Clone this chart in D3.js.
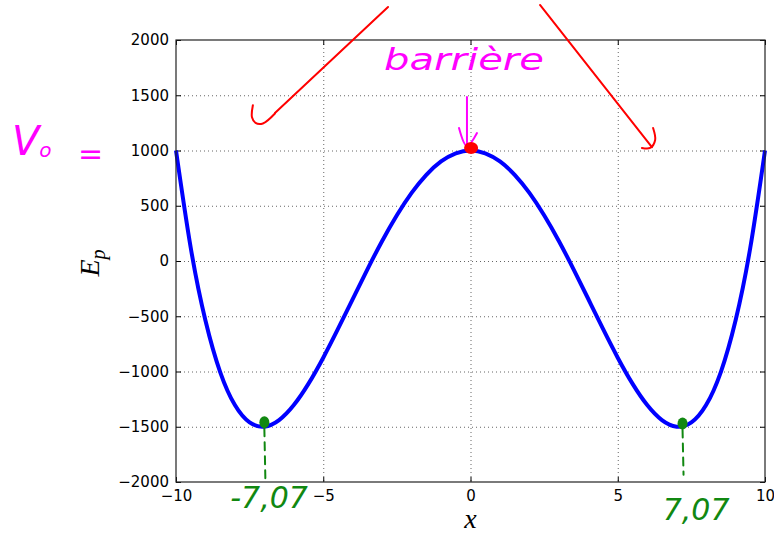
<!DOCTYPE html>
<html>
<head>
<meta charset="utf-8">
<script src="https://cdn.jsdelivr.net/npm/d3@7/dist/d3.min.js"></script>
<style>
  body { margin: 0; background: #fff; }
  svg { display: block; }
  .axis text { font-family: "DejaVu Sans", sans-serif; font-size: 15px; fill: #000; }
  .axis path { display: none; }
  .axis line { stroke: #000; stroke-width: 1; }
  .grid line { stroke: #666; stroke-width: 1; stroke-dasharray: 1,3; }
  .grid path { display: none; }
  .hand { font-family: "DejaVu Sans", sans-serif; font-style: italic; }
</style>
</head>
<body>
<svg id="chart" width="774" height="535"></svg>
<script>
// courbe Ep(x)
const xValues = [-10, -9.5, -9, -8.5, -8, -7.5, -7, -6.5, -6, -5.5, -5, -4.5, -4, -3.5, -3, -2.5, -2, -1.5, -1, -0.5,
                 0, 0.5, 1, 1.5, 2, 2.5, 3, 3.5, 4, 4.5, 5, 5.5, 6, 6.5, 7, 7.5, 8, 8.5, 9, 9.5, 10];
const epValues = [1000, 120, -539, -1005, -1304, -1461, -1499, -1440, -1304, -1110, -875, -615, -344, -75, 181, 414, 616, 780, 901, 975,
                  1000, 975, 901, 780, 616, 414, 181, -75, -344, -615, -875, -1110, -1304, -1440, -1499, -1461, -1304, -1005, -539, 120, 1000];

const xTicks = [-10, -5, 0, 5, 10];
const yTicks = [-2000, -1500, -1000, -500, 0, 500, 1000, 1500, 2000];

// annotations manuscrites (coordonnées dans l'espace des données)
const summitDot = [0.02, 1023];
const minimaDotsX = [-7.0, 7.2];
const minimaDotsY = [-1460, -1470];
const minimaLabels = ['-7,07', '7,07'];
const minimaLabelX = [-6.84, 7.66];
const minimaLabelY = [-2235, -2345];
const minimaDashEnd = [-1965, -1935];

const redArrows = [
    { line: [[-2.80, 2299], [-6.64, 1339]],
      hook: [[-7.39, 1410], [-7.42, 1300], [-7.3, 1250], [-7.05, 1245], [-6.64, 1335]] },
    { line: [[2.36, 2317], [6.16, 1030]],
      hook: [[6.20, 1204], [6.27, 1095], [6.10, 1023], [5.82, 1023]] }
];
const magentaStem = [[-0.12, 1484], [-0.12, 1060]];
const magentaHead = [[-0.39, 1204], [-0.12, 1040], [0.22, 1158]];

const margin = { top: 40, right: 9, bottom: 53, left: 176 };
const W = 774, H = 535;
const width = W - margin.left - margin.right;
const height = H - margin.top - margin.bottom;

const svg = d3.select('#chart');
const g = svg.append('g').attr('transform', `translate(${margin.left},${margin.top})`);

const x = d3.scaleLinear().domain([-10, 10]).range([0, width]);
const y = d3.scaleLinear().domain([-2000, 2000]).range([height, 0]);
const fmt = d => d3.format('d')(d);

// grille
g.append('g').attr('class', 'grid')
    .call(d3.axisBottom(x).tickValues(xTicks.slice(1, -1)).tickSize(height).tickFormat(''));
g.append('g').attr('class', 'grid')
    .call(d3.axisLeft(y).tickValues(yTicks.slice(1, -1)).tickSize(-width).tickFormat(''));

// axes (graduations vers l'intérieur, sur les quatre côtés)
g.append('g').attr('class', 'axis')
    .attr('transform', `translate(0,${height})`)
    .call(d3.axisBottom(x).tickValues(xTicks).tickSize(-5).tickPadding(8).tickFormat(fmt));
g.append('g').attr('class', 'axis')
    .call(d3.axisTop(x).tickValues(xTicks).tickSize(-5).tickFormat(''));
g.append('g').attr('class', 'axis')
    .call(d3.axisLeft(y).tickValues(yTicks).tickSize(-5).tickPadding(7).tickFormat(fmt));
g.append('g').attr('class', 'axis')
    .attr('transform', `translate(${width},0)`)
    .call(d3.axisRight(y).tickValues(yTicks).tickSize(-5).tickFormat(''));

// courbe
const pts = xValues.map((v, i) => [v, epValues[i]]);
const line = d3.line().x(d => x(d[0])).y(d => y(d[1])).curve(d3.curveNatural);
g.append('path')
    .datum(pts)
    .attr('d', line)
    .attr('fill', 'none')
    .attr('stroke', '#0000ff')
    .attr('stroke-width', 4)
    .attr('stroke-linejoin', 'round');

// cadre
g.append('rect')
    .attr('width', width).attr('height', height)
    .attr('fill', 'none').attr('stroke', '#222').attr('stroke-width', 1.2);

// titres des axes
g.append('text')
    .attr('x', x(0)).attr('y', height + 46)
    .attr('text-anchor', 'middle')
    .style('font-family', '"Liberation Serif", serif').style('font-style', 'italic').style('font-size', '28px')
    .text('x');
const yl = g.append('text')
    .attr('transform', `translate(-77,${y(0) + 2}) rotate(-90)`)
    .attr('text-anchor', 'middle')
    .style('font-family', '"Liberation Serif", serif').style('font-style', 'italic').style('font-size', '28px');
yl.append('tspan').text('E');
yl.append('tspan').attr('dy', 6).style('font-size', '20px').text('p');

// annotations
const ann = g.append('g').attr('fill', 'none').attr('stroke-linecap', 'round').attr('stroke-linejoin', 'round');
const pline = d3.line().x(d => x(d[0])).y(d => y(d[1]));
const cline = d3.line().x(d => x(d[0])).y(d => y(d[1])).curve(d3.curveCatmullRom);

redArrows.forEach(a => {
    ann.append('path').attr('d', pline(a.line)).attr('stroke', '#ff0000').attr('stroke-width', 2);
    ann.append('path').attr('d', cline(a.hook)).attr('stroke', '#ff0000').attr('stroke-width', 2);
});
ann.append('path').attr('d', pline(magentaStem)).attr('stroke', '#ff00ff').attr('stroke-width', 2);
ann.append('path').attr('d', cline(magentaHead)).attr('stroke', '#ff00ff').attr('stroke-width', 2);

g.append('ellipse')
    .attr('cx', x(summitDot[0])).attr('cy', y(summitDot[1]))
    .attr('rx', 7).attr('ry', 6).attr('fill', '#ff0000');

g.append('text').attr('class', 'hand')
    .attr('x', x(-0.22)).attr('y', y(1728))
    .attr('text-anchor', 'middle')
    .attr('textLength', 160).attr('lengthAdjust', 'spacingAndGlyphs')
    .style('font-size', '30px').attr('fill', '#ff00ff')
    .text('barrière');

minimaDotsX.forEach((mx, i) => {
    g.append('ellipse')
        .attr('cx', x(mx)).attr('cy', y(minimaDotsY[i]))
        .attr('rx', 5).attr('ry', 6).attr('fill', '#118811');
    ann.append('line')
        .attr('x1', x(mx)).attr('y1', y(minimaDotsY[i]) + 6)
        .attr('x2', x(mx) + 1).attr('y2', y(minimaDashEnd[i]))
        .attr('stroke', '#118811').attr('stroke-width', 2).attr('stroke-dasharray', '8,6');
    g.append('text').attr('class', 'hand')
        .attr('x', x(minimaLabelX[i])).attr('y', y(minimaLabelY[i]))
        .attr('text-anchor', 'middle')
        .style('font-size', '30px').attr('fill', '#118811')
        .text(minimaLabels[i]);
});

const v0 = g.append('text').attr('class', 'hand')
    .attr('x', x(-15.57)).attr('y', y(959))
    .style('font-size', '40px').attr('fill', '#ff00ff');
v0.append('tspan').text('V');
v0.append('tspan').attr('dy', 2).style('font-size', '20px').text('o');
g.append('text').attr('class', 'hand')
    .attr('x', x(-13.33)).attr('y', y(880))
    .style('font-size', '30px').attr('fill', '#ff00ff')
    .text('=');
</script>
</body>
</html>
